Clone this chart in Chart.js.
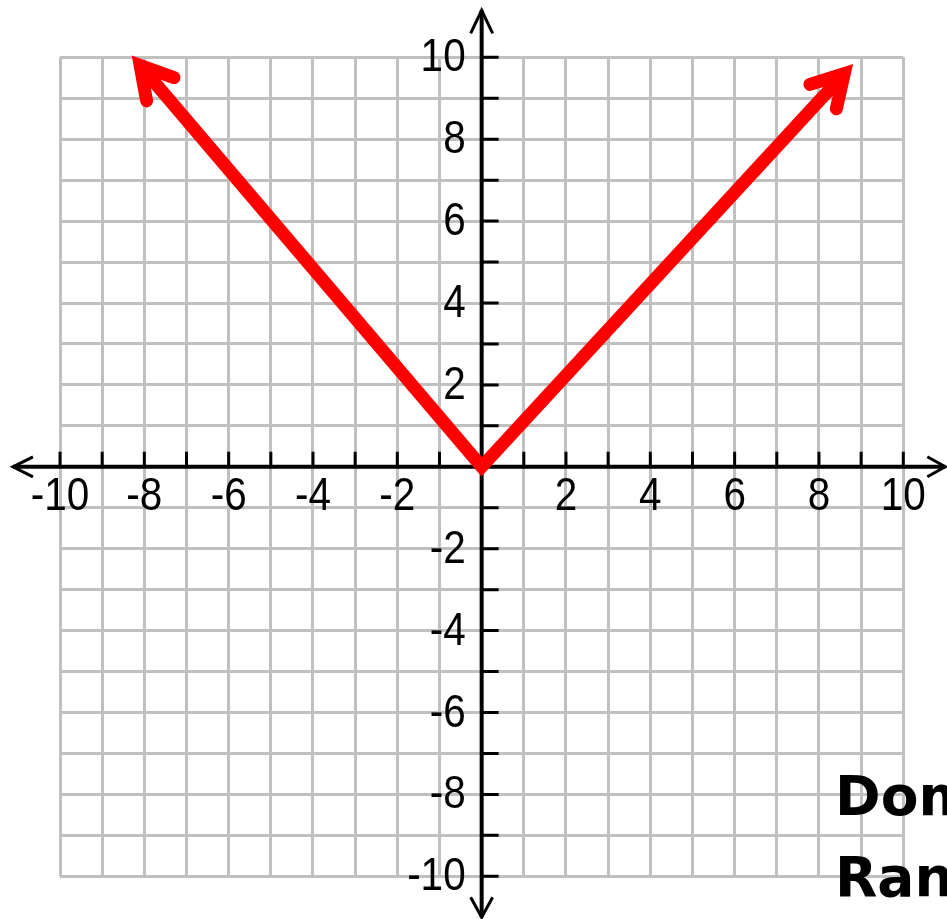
<!DOCTYPE html>
<html>
<head>
<meta charset="utf-8">
<script src="https://cdn.jsdelivr.net/npm/chart.js@4.4.0/dist/chart.umd.min.js"></script>
<style>
  html, body { margin:0; padding:0; background:#fff; }
  #wrap { width:947px; height:919px; }
</style>
</head>
<body>
<div id="wrap"><canvas id="graph" width="947" height="919"></canvas></div>
<script>
// grid range
const axisMin = -10;
const axisMax = 10;

// tick labels (0 is not labelled)
const xTickValues = [-10, -8, -6, -4, -2, 2, 4, 6, 8, 10];
const xTickLabels = ['-10', '-8', '-6', '-4', '-2', '2', '4', '6', '8', '10'];
const yTickValues = [-10, -8, -6, -4, -2, 2, 4, 6, 8, 10];
const yTickLabels = ['-10', '-8', '-6', '-4', '-2', '2', '4', '6', '8', '10'];

// the red V (arrow ends)
const vX = [-8.1, 0, 8.6];
const vY = [9.8, 0, 9.6];

const sideLabels = ['Domain', 'Range'];

const tickFont = '46px "Liberation Sans", Arial, sans-serif';

// axes through the origin, with small ticks and arrow ends
const axesPlugin = {
  id: 'axesPlugin',
  beforeDatasetsDraw(chart) {
    const {ctx, scales: {x, y}} = chart;
    const ox = x.getPixelForValue(0);
    const oy = y.getPixelForValue(0);
    ctx.save();
    ctx.strokeStyle = '#000';
    ctx.fillStyle = '#000';

    // ticks: every unit
    ctx.lineWidth = 3;
    ctx.beginPath();
    x.ticks.forEach(t => {
      if (t.value === 0) return;
      const px = x.getPixelForValue(t.value);
      ctx.moveTo(px, oy - 15); ctx.lineTo(px, oy);
    });
    y.ticks.forEach(t => {
      if (t.value === 0) return;
      const py = y.getPixelForValue(t.value);
      ctx.moveTo(ox, py); ctx.lineTo(ox + 17, py);
    });
    ctx.stroke();

    // axis lines
    ctx.lineWidth = 4;
    ctx.beginPath();
    ctx.moveTo(x.left - 47, oy); ctx.lineTo(x.right + 42, oy);
    ctx.moveTo(ox, y.top - 47); ctx.lineTo(ox, y.bottom + 41);
    ctx.stroke();

    // arrow ends
    ctx.lineWidth = 3;
    ctx.beginPath();
    ctx.moveTo(x.left - 27, oy - 10); ctx.lineTo(x.left - 47, oy); ctx.lineTo(x.left - 27, oy + 10);
    ctx.moveTo(x.right + 24, oy - 10); ctx.lineTo(x.right + 42, oy); ctx.lineTo(x.right + 24, oy + 10);
    ctx.moveTo(ox - 11, y.top - 24); ctx.lineTo(ox, y.top - 47); ctx.lineTo(ox + 11, y.top - 24);
    ctx.moveTo(ox - 11, y.bottom + 21); ctx.lineTo(ox, y.bottom + 41); ctx.lineTo(ox + 11, y.bottom + 21);
    ctx.stroke();

    // tick labels
    ctx.font = tickFont;
    ctx.textBaseline = 'alphabetic';
    ctx.textAlign = 'center';
    xTickValues.forEach((v, i) => {
      ctx.save();
      ctx.translate(x.getPixelForValue(v), oy + 43);
      ctx.scale(0.88, 1);
      ctx.fillText(xTickLabels[i], 0, 0);
      ctx.restore();
    });
    ctx.textAlign = 'right';
    yTickValues.forEach((v, i) => {
      ctx.save();
      ctx.translate(ox - 16, y.getPixelForValue(v) + 14);
      ctx.scale(0.88, 1);
      ctx.fillText(yTickLabels[i], 0, 0);
      ctx.restore();
    });
    ctx.restore();
  }
};

// arrow heads on both ends of the red line
const arrowPlugin = {
  id: 'arrowPlugin',
  afterDatasetsDraw(chart) {
    const {ctx} = chart;
    const pts = chart.getDatasetMeta(0).data;
    if (!pts || pts.length < 2) return;
    const ends = [[pts[0], pts[1]], [pts[pts.length - 1], pts[pts.length - 2]]];
    const len = 36, ang = 30 * Math.PI / 180;
    ctx.save();
    ctx.strokeStyle = '#ff0000';
    ctx.lineWidth = 13;
    ctx.lineJoin = 'miter';
    ctx.lineCap = 'round';
    ends.forEach(([tip, prev]) => {
      const dx = prev.x - tip.x, dy = prev.y - tip.y;
      const d = Math.hypot(dx, dy);
      const ux = dx / d, uy = dy / d;
      const rot = (a) => [ux * Math.cos(a) - uy * Math.sin(a), ux * Math.sin(a) + uy * Math.cos(a)];
      const [ax, ay] = rot(ang);
      const [bx, by] = rot(-ang);
      ctx.beginPath();
      ctx.moveTo(tip.x + ax * len, tip.y + ay * len);
      ctx.lineTo(tip.x, tip.y);
      ctx.lineTo(tip.x + bx * len, tip.y + by * len);
      ctx.stroke();
    });
    ctx.restore();
  }
};

// the bold words cut off at the lower right
const sideTextPlugin = {
  id: 'sideTextPlugin',
  afterDraw(chart) {
    const {ctx} = chart;
    ctx.save();
    ctx.font = 'bold 55px "DejaVu Sans", sans-serif';
    ctx.fillStyle = '#000';
    ctx.textAlign = 'left';
    ctx.textBaseline = 'alphabetic';
    ctx.fillText(sideLabels[0], 835, 815);
    ctx.fillText(sideLabels[1], 835, 896);
    ctx.restore();
  }
};

const gridScale = () => ({
  type: 'linear',
  min: axisMin,
  max: axisMax,
  ticks: { stepSize: 1, display: false },
  grid: { color: '#c0c0c0', lineWidth: 3, drawTicks: false },
  border: { display: false }
});

new Chart(document.getElementById('graph').getContext('2d'), {
  type: 'line',
  data: {
    datasets: [{
      data: vX.map((v, i) => ({x: v, y: vY[i]})),
      borderColor: '#ff0000',
      borderWidth: 13,
      borderJoinStyle: 'miter',
      borderCapStyle: 'butt',
      pointRadius: 0,
      tension: 0,
      fill: false,
      clip: false
    }]
  },
  options: {
    responsive: false,
    animation: false,
    devicePixelRatio: 1,
    layout: { padding: { left: 60, right: 43.7, top: 57.3, bottom: 42.7 } },
    plugins: { legend: { display: false }, tooltip: { enabled: false } },
    scales: { x: gridScale(), y: gridScale() }
  },
  plugins: [axesPlugin, arrowPlugin, sideTextPlugin]
});
</script>
</body>
</html>
